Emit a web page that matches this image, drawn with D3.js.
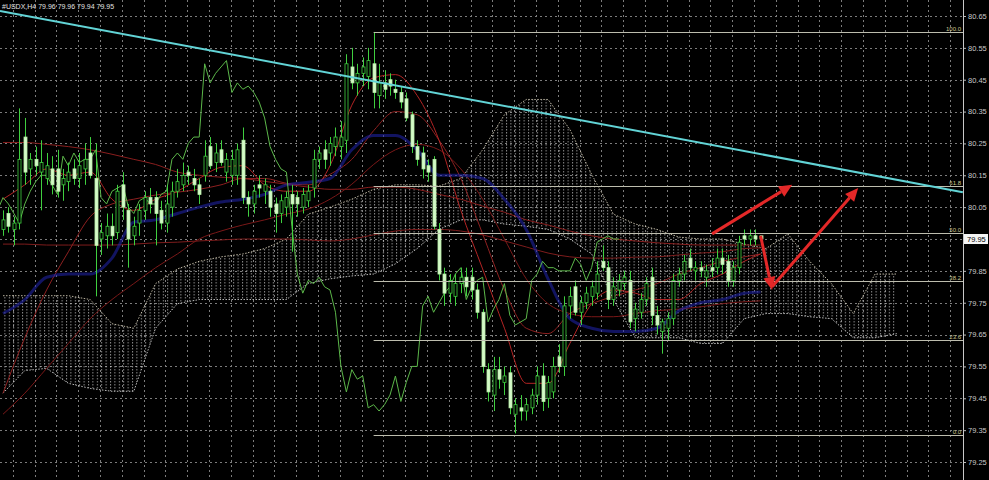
<!DOCTYPE html>
<html>
<head>
<meta charset="utf-8">
<script src="https://cdn.jsdelivr.net/npm/d3@7"></script>
<style>
  body { margin: 0; background: #000; overflow: hidden; }
  svg { display: block; }
  text { font-family: "Liberation Sans", "DejaVu Sans", sans-serif; }
</style>
</head>
<body>
<svg id="chart" width="989" height="480"></svg>
<script>
// ---- data ----
const symbolTitle = "#USDX,H4  79.96 79.96 79.94 79.95";
const lastPrice = 79.95;

const opens = [79.98,80.03,79.98,80.00,80.27,80.17,80.20,80.16,80.14,80.17,80.17,80.12,80.13,80.17,80.14,80.17,80.22,80.14,79.95,79.96,
  79.99,79.97,80.12,80.04,79.96,80.00,80.04,80.08,80.08,80.04,80.00,80.05,80.10,80.12,80.16,80.14,80.12,80.15,80.24,80.19,
  80.23,80.16,80.15,80.15,80.26,80.08,80.06,80.12,80.10,80.10,80.06,80.03,80.05,80.09,80.08,80.05,80.07,80.11,80.20,80.23,
  80.22,80.24,80.24,80.26,80.49,80.44,80.47,80.46,80.50,80.40,80.44,80.45,80.42,80.41,80.39,80.34,80.24,80.22,80.18,80.20,
  79.98,79.84,79.78,79.77,79.81,79.83,79.83,79.79,79.72,79.54,79.46,79.54,79.50,79.53,79.40,79.42,79.41,79.42,79.46,79.52,
  79.45,79.47,79.58,79.55,79.74,79.80,79.72,79.75,79.77,79.78,79.88,79.86,79.76,79.79,79.81,79.82,79.70,79.72,79.76,79.83,
  79.71,79.66,79.67,79.70,79.82,79.84,79.89,79.85,79.86,79.83,79.86,79.86,79.89,79.88,79.82,79.86,79.96,79.95,79.96,79.96];
const highs = [80.04,80.05,80.02,80.36,80.33,80.22,80.24,80.26,80.22,80.21,80.23,80.17,80.19,80.20,80.22,80.25,80.27,80.25,80.00,80.03,
  80.03,80.12,80.16,80.06,80.02,80.06,80.10,80.11,80.10,80.07,80.12,80.13,80.17,80.19,80.18,80.17,80.14,80.26,80.27,80.25,
  80.26,80.22,80.23,80.25,80.30,80.10,80.12,80.15,80.14,80.12,80.08,80.09,80.10,80.12,80.10,80.11,80.12,80.23,80.24,80.26,
  80.27,80.30,80.32,80.53,80.55,80.50,80.52,80.55,80.60,80.50,80.48,80.47,80.45,80.43,80.41,80.35,80.26,80.24,80.20,80.21,
  80.00,79.86,79.84,79.84,79.86,79.86,79.86,79.81,79.73,79.56,79.58,79.58,79.55,79.55,79.45,79.46,79.45,79.48,79.55,79.56,
  79.52,79.58,79.62,79.77,79.80,79.82,79.77,79.80,79.82,79.88,79.93,79.88,79.83,79.84,79.85,79.85,79.75,79.78,79.83,79.86,
  79.74,79.70,79.72,79.84,79.86,79.90,79.92,79.88,79.88,79.87,79.89,79.92,79.92,79.90,79.88,79.96,79.98,79.98,79.98,79.96];
const lows = [79.96,79.97,79.93,79.98,80.12,80.12,80.15,80.04,80.12,80.09,80.08,80.07,80.10,80.12,80.11,80.12,80.14,79.77,79.90,79.92,
  79.93,79.95,80.01,79.86,79.93,79.96,80.01,80.03,79.93,79.98,79.97,80.02,80.08,80.10,80.12,80.10,80.06,80.13,80.17,80.16,
  80.18,80.13,80.12,80.12,80.06,80.02,80.03,80.08,80.06,80.02,79.97,80.00,80.02,79.91,80.02,80.03,80.05,80.08,80.17,80.17,
  80.18,80.21,80.20,80.22,80.42,80.40,80.43,80.42,80.36,80.36,80.39,80.40,80.39,80.36,80.32,80.22,80.18,80.14,80.13,79.98,
  79.82,79.74,79.75,79.74,79.78,79.77,79.76,79.70,79.53,79.44,79.41,79.48,79.46,79.40,79.34,79.38,79.38,79.40,79.43,79.41,
  79.42,79.45,79.53,79.52,79.70,79.71,79.68,79.73,79.74,79.76,79.85,79.73,79.74,79.77,79.79,79.67,79.66,79.70,79.74,79.68,
  79.65,79.59,79.63,79.68,79.80,79.82,79.85,79.82,79.83,79.80,79.83,79.84,79.84,79.80,79.80,79.84,79.93,79.93,79.93,79.94];
const closes = [80.01,79.99,80.00,80.20,80.16,80.20,80.18,80.19,80.18,80.12,80.10,80.14,80.16,80.14,80.18,80.20,80.15,79.93,79.97,79.99,
  79.96,80.10,80.05,79.95,79.99,80.04,80.08,80.06,80.03,80.00,80.06,80.10,80.13,80.15,80.15,80.12,80.09,80.21,80.18,80.22,
  80.19,80.20,80.20,80.23,80.08,80.06,80.10,80.11,80.12,80.05,80.03,80.07,80.08,80.06,80.06,80.09,80.10,80.20,80.22,80.20,
  80.25,80.27,80.27,80.50,80.44,80.47,80.49,80.51,80.41,80.44,80.42,80.43,80.41,80.38,80.33,80.24,80.20,80.17,80.16,79.99,
  79.84,79.78,79.82,79.81,79.83,79.80,79.79,79.72,79.55,79.47,79.54,79.51,79.52,79.42,79.43,79.41,79.43,79.46,79.52,79.44,
  79.50,79.55,79.55,79.74,79.77,79.72,79.75,79.78,79.80,79.84,79.86,79.76,79.80,79.82,79.83,79.69,79.73,79.76,79.81,79.71,
  79.68,79.69,79.70,79.82,79.84,79.88,79.86,79.86,79.85,79.85,79.85,79.89,79.87,79.82,79.86,79.94,79.95,79.96,79.95,79.95];

// indicator lines, sampled every 4 bars
const lineBars = [0,4,8,12,16,20,24,28,32,36,40,44,48,52,56,60,64,68,72,76,80,84,88,92,96,100,104,108,112,116,120,124,128,132,136,139];
const tenkan = [80.075,80.12,80.17,80.15,80.16,80.075,80.04,80.075,80.10,80.14,80.175,80.18,80.12,80.10,80.10,80.18,80.37,80.456,80.466,80.40,
  80.26,80.04,79.856,79.67,79.497,79.497,79.622,79.747,79.79,79.78,79.76,79.76,79.81,79.84,79.88,79.903];
const kijun = [79.716,79.76,79.83,79.84,79.84,79.89,80.003,80.01,80.03,80.05,80.066,80.075,80.09,80.12,80.128,80.14,80.23,80.275,80.275,80.23,
  80.15,80.15,80.14,80.075,79.98,79.825,79.70,79.67,79.66,79.66,79.67,79.725,79.75,79.76,79.78,79.784];
const maFast = [79.466,79.64,79.79,79.91,80.02,80.06,80.075,80.088,80.097,80.106,80.12,80.14,80.14,80.125,80.12,80.153,80.20,80.29,80.35,80.34,
  80.26,80.14,79.966,79.79,79.67,79.653,79.716,79.747,79.77,79.79,79.81,79.84,79.86,79.88,79.894,79.903];
const maMid = [79.40,79.466,79.544,79.622,79.70,79.76,79.81,79.86,79.903,79.95,79.975,79.994,80.01,80.028,80.044,80.075,80.122,80.184,80.23,80.247,
  80.23,80.17,80.075,79.95,79.825,79.747,79.716,79.706,79.706,79.716,79.725,79.73,79.737,79.747,79.753,79.756];
const maSlow = [80.253,80.253,80.247,80.24,80.23,80.216,80.20,80.184,80.16,80.15,80.144,80.14,80.131,80.122,80.113,80.106,80.106,80.113,80.113,80.106,
  80.09,80.075,80.053,80.034,80.01,79.994,79.975,79.96,79.95,79.944,79.938,79.934,79.931,79.931,79.931,79.931];
const maLong = [79.934,79.934,79.931,79.931,79.931,79.931,79.934,79.938,79.94,79.944,79.947,79.95,79.95,79.95,79.947,79.944,79.95,79.963,79.975,79.98,
  79.98,79.975,79.963,79.944,79.925,79.906,79.894,79.89,79.89,79.893,79.894,79.90,79.906,79.91,79.92,79.922];

// ichimoku cloud (projected 26 bars ahead)
const cloudBars = [0,4,8,12,16,20,24,28,32,36,40,44,48,52,56,60,64,68,72,76,80,84,88,92,96,100,104,108,112,116,120,124,128,132,136,140,144,148,152,156,160,164];
const senkouA = [79.772,79.772,79.772,79.772,79.76,79.684,79.67,79.81,79.856,79.88,79.894,79.903,79.92,79.95,80.028,80.05,80.075,80.106,80.12,80.12,
  80.116,80.14,80.23,80.34,80.388,80.388,80.294,80.153,80.028,79.997,79.98,79.956,79.95,79.95,79.934,79.92,79.966,79.88,79.81,79.716,79.84,79.84];
const senkouB = [79.466,79.537,79.544,79.497,79.481,79.472,79.472,79.67,79.747,79.76,79.76,79.76,79.76,79.76,79.81,79.825,79.834,79.84,79.872,79.92,
  79.98,80.01,80.01,79.997,79.99,79.98,79.95,79.903,79.76,79.64,79.64,79.64,79.622,79.622,79.70,79.716,79.716,79.706,79.70,79.64,79.64,79.653];
const chikouShift = 26;

// fibonacci retracement
const fibHigh = 80.60, fibLow = 79.335, fibStartBar = 68;
const fibLevels = [100.0, 61.8, 50.0, 38.2, 23.6, 0.0];

// trend line + hand-drawn arrows (bar, price)
const trendLine = [[-0.55, 80.666], [176.1, 80.097]];
const arrows = [
  [[130.1, 79.966], [144.8, 80.12]],
  [[139.0, 79.96], [141.1, 79.79]],
  [[141.1, 79.80], [156.9, 80.11]]
];

const priceTicks = [80.65,80.55,80.45,80.35,80.25,80.15,80.05,79.95,79.85,79.75,79.65,79.55,79.45,79.35,79.25];

// ---- drawing ----
const W = 989, H = 480, plotRight = 963;
const svg = d3.select("#chart");
svg.append("rect").attr("width", W).attr("height", H).attr("fill", "#000");

const x = d3.scaleLinear().domain([0, 139]).range([3, 760.6]);
const y = d3.scaleLinear().domain([79.25, 80.65]).range([462, 16]);

const defs = svg.append("defs");
defs.append("clipPath").attr("id", "plot")
  .append("rect").attr("x", 0).attr("y", 0).attr("width", plotRight).attr("height", H);
const pat = defs.append("pattern").attr("id", "hatch")
  .attr("patternUnits", "userSpaceOnUse").attr("width", 4.4).attr("height", 3);
pat.append("rect").attr("x", 0).attr("y", 0).attr("width", 1).attr("height", 1.5).attr("fill", "#e6e6e6");

const plot = svg.append("g").attr("clip-path", "url(#plot)");

// grid
plot.append("g").selectAll("line").data(priceTicks).join("line")
  .attr("x1", 0).attr("x2", plotRight)
  .attr("y1", d => Math.round(y(d)) + 0.5).attr("y2", d => Math.round(y(d)) + 0.5)
  .attr("stroke", "#7c7c7c").attr("stroke-dasharray", "2,3");
plot.append("g").selectAll("line").data(d3.range(1.8, 176, 4)).join("line")
  .attr("x1", d => Math.round(x(d)) + 0.5).attr("x2", d => Math.round(x(d)) + 0.5)
  .attr("y1", 0).attr("y2", H)
  .attr("stroke", "#7c7c7c").attr("stroke-dasharray", "2,3");

// cloud
const cloud = cloudBars.map((b, i) => ({b, a: senkouA[i], s: senkouB[i]}));
plot.append("path").datum(cloud)
  .attr("d", d3.area().x(d => x(d.b)).y0(d => y(d.a)).y1(d => y(d.s)))
  .attr("fill", "url(#hatch)").attr("opacity", 0.6);
[["a", "#d8d0b8"], ["s", "#d8d8d8"]].forEach(([k, c]) => {
  plot.append("path").datum(cloud)
    .attr("d", d3.line().x(d => x(d.b)).y(d => y(d[k])))
    .attr("fill", "none").attr("stroke", c).attr("stroke-width", 1)
    .attr("stroke-dasharray", "1.5,1.5").attr("opacity", 0.85);
});

// moving averages & ichimoku lines
const smooth = d3.line().curve(d3.curveMonotoneX).x(d => x(d[0])).y(d => y(d[1]));
const series = [
  [maLong, "#7e1c1c", 1],
  [maSlow, "#8a1e1e", 1],
  [maMid, "#7a1818", 1],
  [maFast, "#8e2020", 1],
  [tenkan, "#b32424", 1],
];
series.forEach(([vals, col, w]) => {
  plot.append("path").datum(lineBars.map((b, i) => [b, vals[i]]))
    .attr("d", smooth).attr("fill", "none").attr("stroke", col).attr("stroke-width", w);
});
plot.append("path").datum(lineBars.map((b, i) => [b, kijun[i]]))
  .attr("d", smooth)
  .attr("fill", "none").attr("stroke", "#2024b0").attr("stroke-width", 3).attr("opacity", 0.55);

// chikou span = close drawn 26 bars back
plot.append("path").datum(closes.map((c, i) => [i - chikouShift, c]))
  .attr("d", d3.line().x(d => x(d[0])).y(d => y(d[1])))
  .attr("fill", "none").attr("stroke", "#5cb84a").attr("stroke-width", 1);

// candles
const bars = closes.map((c, i) => ({i, o: opens[i], h: highs[i], l: lows[i], c}));
const cg = plot.append("g");
cg.selectAll("line").data(bars).join("line")
  .attr("x1", d => Math.round(x(d.i)) + 0.5).attr("x2", d => Math.round(x(d.i)) + 0.5)
  .attr("y1", d => y(d.h)).attr("y2", d => y(d.l))
  .attr("stroke", "#3fcf3f").attr("stroke-width", 1);
cg.selectAll("rect").data(bars).join("rect")
  .attr("x", d => Math.round(x(d.i)) - 1)
  .attr("width", 3)
  .attr("y", d => y(Math.max(d.o, d.c)))
  .attr("height", d => Math.max(1, Math.abs(y(d.o) - y(d.c))))
  .attr("fill", d => d.c < d.o ? "#d4f8c8" : "#000")
  .attr("stroke", d => d.c < d.o ? "#b8f0a8" : "#3fcf3f")
  .attr("stroke-width", 0.8);

// fibonacci levels
const fibG = plot.append("g");
fibLevels.forEach(lv => {
  const p = fibLow + (fibHigh - fibLow) * lv / 100;
  const yy = Math.round(y(p)) + 0.5;
  fibG.append("line").attr("x1", x(fibStartBar)).attr("x2", plotRight)
    .attr("y1", yy).attr("y2", yy).attr("stroke", "#bdbdae").attr("stroke-width", 1.2);
  fibG.append("text").attr("x", plotRight - 2).attr("y", yy - 1.5)
    .attr("text-anchor", "end").attr("font-size", 6).attr("fill", "#cfc890")
    .text(lv.toFixed(1));
});

// trend line
plot.append("line")
  .attr("x1", x(trendLine[0][0])).attr("y1", y(trendLine[0][1]))
  .attr("x2", x(trendLine[1][0])).attr("y2", y(trendLine[1][1]))
  .attr("stroke", "#62d4d6").attr("stroke-width", 2);

// red arrows
arrows.forEach(([s, e]) => {
  const x1 = x(s[0]), y1 = y(s[1]), x2 = x(e[0]), y2 = y(e[1]);
  const ang = Math.atan2(y2 - y1, x2 - x1), len = 13, hw = 6;
  const bx = x2 - len * Math.cos(ang), by = y2 - len * Math.sin(ang);
  plot.append("line").attr("x1", x1).attr("y1", y1).attr("x2", bx).attr("y2", by)
    .attr("stroke", "#e42828").attr("stroke-width", 3);
  plot.append("path")
    .attr("d", `M${x2},${y2}L${bx + hw * Math.sin(ang)},${by - hw * Math.cos(ang)}L${bx - hw * Math.sin(ang)},${by + hw * Math.cos(ang)}Z`)
    .attr("fill", "#e42828");
});

// price axis
const axis = svg.append("g").attr("transform", `translate(${plotRight},0)`)
  .call(d3.axisRight(y).tickValues(priceTicks).tickFormat(d3.format(".2f")).tickSize(3).tickPadding(2));
axis.select(".domain").remove();
axis.selectAll("line").attr("stroke", "#bbb");
axis.selectAll("text").attr("fill", "#c8c8c8").attr("font-size", 7.5)
  .attr("font-family", "'Liberation Sans', sans-serif");
svg.append("line").attr("x1", plotRight + 0.5).attr("x2", plotRight + 0.5).attr("y1", 0).attr("y2", H)
  .attr("stroke", "#c8c8c8");

// current price tag
const py = y(lastPrice);
svg.append("rect").attr("x", plotRight + 1).attr("y", py - 5).attr("width", 24).attr("height", 10).attr("fill", "#f4f4f4");
svg.append("text").attr("x", plotRight + 4).attr("y", py + 3).attr("font-size", 7.5).attr("fill", "#000")
  .text(lastPrice.toFixed(2));

// title
svg.append("text").attr("x", 2).attr("y", 9).attr("font-size", 7).attr("fill", "#e0e0e0").text(symbolTitle);
</script>
</body>
</html>
